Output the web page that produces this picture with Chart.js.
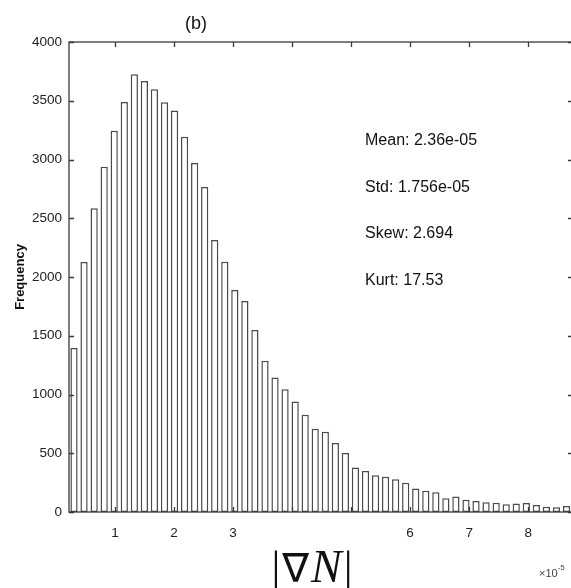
<!DOCTYPE html>
<html>
<head>
<meta charset="utf-8">
<script src="https://cdn.jsdelivr.net/npm/chart.js@4/dist/chart.umd.min.js"></script>
<style>
  html, body { margin: 0; padding: 0; background: #fff; overflow: hidden; }
  #wrap { width: 574px; height: 588px; }
</style>
</head>
<body>
<div id="wrap"><canvas id="histChart" width="574" height="588"></canvas></div>
<script>
// bin centres (x 1e-5) and counts
const binCenters = [0.305, 0.475, 0.646, 0.816, 0.986, 1.157, 1.327, 1.497, 1.667, 1.838,
   2.008, 2.178, 2.349, 2.519, 2.689, 2.860, 3.030, 3.200, 3.370, 3.541,
   3.711, 3.881, 4.052, 4.222, 4.392, 4.563, 4.733, 4.903, 5.073, 5.244,
   5.414, 5.584, 5.755, 5.925, 6.095, 6.266, 6.436, 6.606, 6.776, 6.947,
   7.117, 7.287, 7.458, 7.628, 7.798, 7.969, 8.139, 8.309, 8.479, 8.650];
const counts = [1396, 2128, 2585, 2939, 3245, 3489, 3725, 3668, 3597, 3487,
   3416, 3194, 2970, 2765, 2315, 2130, 1889, 1796, 1550, 1288,
   1145, 1044, 940, 827, 709, 683, 588, 502, 378, 350,
   313, 301, 278, 248, 199, 181, 168, 116, 131, 104,
   94, 84, 79, 67, 72, 76, 60, 45, 40, 51];
const xTickValues = [1, 2, 3, 4, 5, 6, 7, 8];
const xTickLabels = ['1', '2', '3', '', '', '6', '7', '8'];
const statLines = ['Mean: 2.36e-05', 'Std: 1.756e-05', 'Skew: 2.694', 'Kurt: 17.53'];

const sans = "'Liberation Sans', Arial, sans-serif";

// MATLAB-like box with inward ticks, plus the loose labels
const frame = {
   id: 'frame',
   afterDraw(chart) {
      const { ctx, chartArea: a, scales: { x, y } } = chart;
      ctx.save();
      ctx.strokeStyle = '#3a3a3a';
      ctx.lineWidth = 1.3;
      ctx.strokeRect(a.left, a.top, a.right - a.left, a.bottom - a.top);
      const t = 5;
      ctx.beginPath();
      x.ticks.forEach(tk => {
         const px = Math.round(x.getPixelForValue(tk.value)) + 0.5;
         ctx.moveTo(px, a.bottom); ctx.lineTo(px, a.bottom - t);
         ctx.moveTo(px, a.top); ctx.lineTo(px, a.top + t);
      });
      y.ticks.forEach(tk => {
         const py = Math.round(y.getPixelForValue(tk.value)) + 0.5;
         ctx.moveTo(a.left, py); ctx.lineTo(a.left + t, py);
         ctx.moveTo(a.right, py); ctx.lineTo(a.right - t, py);
      });
      ctx.stroke();

      ctx.fillStyle = '#111';
      ctx.textAlign = 'center';
      ctx.textBaseline = 'alphabetic';
      ctx.font = '18px ' + sans;
      ctx.fillText('(b)', 196, 29);

      // y title
      ctx.save();
      ctx.translate(20, 277);
      ctx.rotate(-Math.PI / 2);
      ctx.font = 'bold 13px ' + sans;
      ctx.textBaseline = 'middle';
      ctx.fillText('Frequency', 0, 0);
      ctx.restore();

      // stats
      ctx.textAlign = 'left';
      ctx.font = '16px ' + sans;
      statLines.forEach((s, i) => ctx.fillText(s, 365, 145 + i * 46.7));

      // x label |∇N|
      const serif = "44px 'Liberation Serif', 'DejaVu Serif', serif";
      const serifIt = "italic 46px 'Liberation Serif', 'DejaVu Serif', serif";
      const parts = [['|', serif], ['\u2207', "40px 'DejaVu Sans', sans-serif"], ['N', serifIt], ['|', serif]];
      let w = 0;
      parts.forEach(p => { ctx.font = p[1]; w += ctx.measureText(p[0]).width + 2; });
      let cx = 313 - w / 2;
      parts.forEach(p => {
         ctx.font = p[1];
         ctx.fillText(p[0], cx, 582);
         cx += ctx.measureText(p[0]).width + 2;
      });

      // exponent
      ctx.fillStyle = '#444';
      ctx.font = '11px ' + sans;
      ctx.fillText('\u00d710', 539, 577);
      const ew = ctx.measureText('\u00d710').width;
      ctx.font = '8px ' + sans;
      ctx.fillText('-5', 539 + ew, 570);
      ctx.restore();
   }
};

const ctx = document.getElementById('histChart').getContext('2d');
new Chart(ctx, {
   type: 'bar',
   data: {
      datasets: [{
         data: binCenters.map((c, i) => ({ x: c, y: counts[i] })),
         backgroundColor: '#ffffff',
         borderColor: '#4a4a4a',
         borderWidth: 1.5,
         borderSkipped: false,
         barPercentage: 0.72,
         categoryPercentage: 1
      }]
   },
   options: {
      responsive: false,
      devicePixelRatio: 1,
      animation: false,
      layout: { padding: { top: 42, left: 0, right: 1, bottom: 0 } },
      scales: {
         x: {
            type: 'linear',
            min: 0.22,
            max: 8.76,
            offset: false,
            grid: { display: false, drawTicks: false, offset: false },
            border: { display: false },
            afterBuildTicks: s => { s.ticks = xTickValues.map(v => ({ value: v })); },
            afterFit: s => { s.height = 76; },
            ticks: {
               padding: 13,
               maxRotation: 0,
               autoSkip: false,
               color: '#222',
               font: { family: sans, size: 13.5 },
               callback: (v, i) => xTickLabels[i]
            }
         },
         y: {
            min: 0,
            max: 4000,
            grid: { display: false, drawTicks: false },
            border: { display: false },
            afterFit: s => { s.width = 69; },
            ticks: {
               stepSize: 500,
               padding: 7,
               color: '#222',
               font: { family: sans, size: 13.5 },
               callback: v => String(v)
            }
         }
      },
      plugins: {
         legend: { display: false },
         tooltip: { enabled: false }
      }
   },
   plugins: [frame]
});
</script>
</body>
</html>
